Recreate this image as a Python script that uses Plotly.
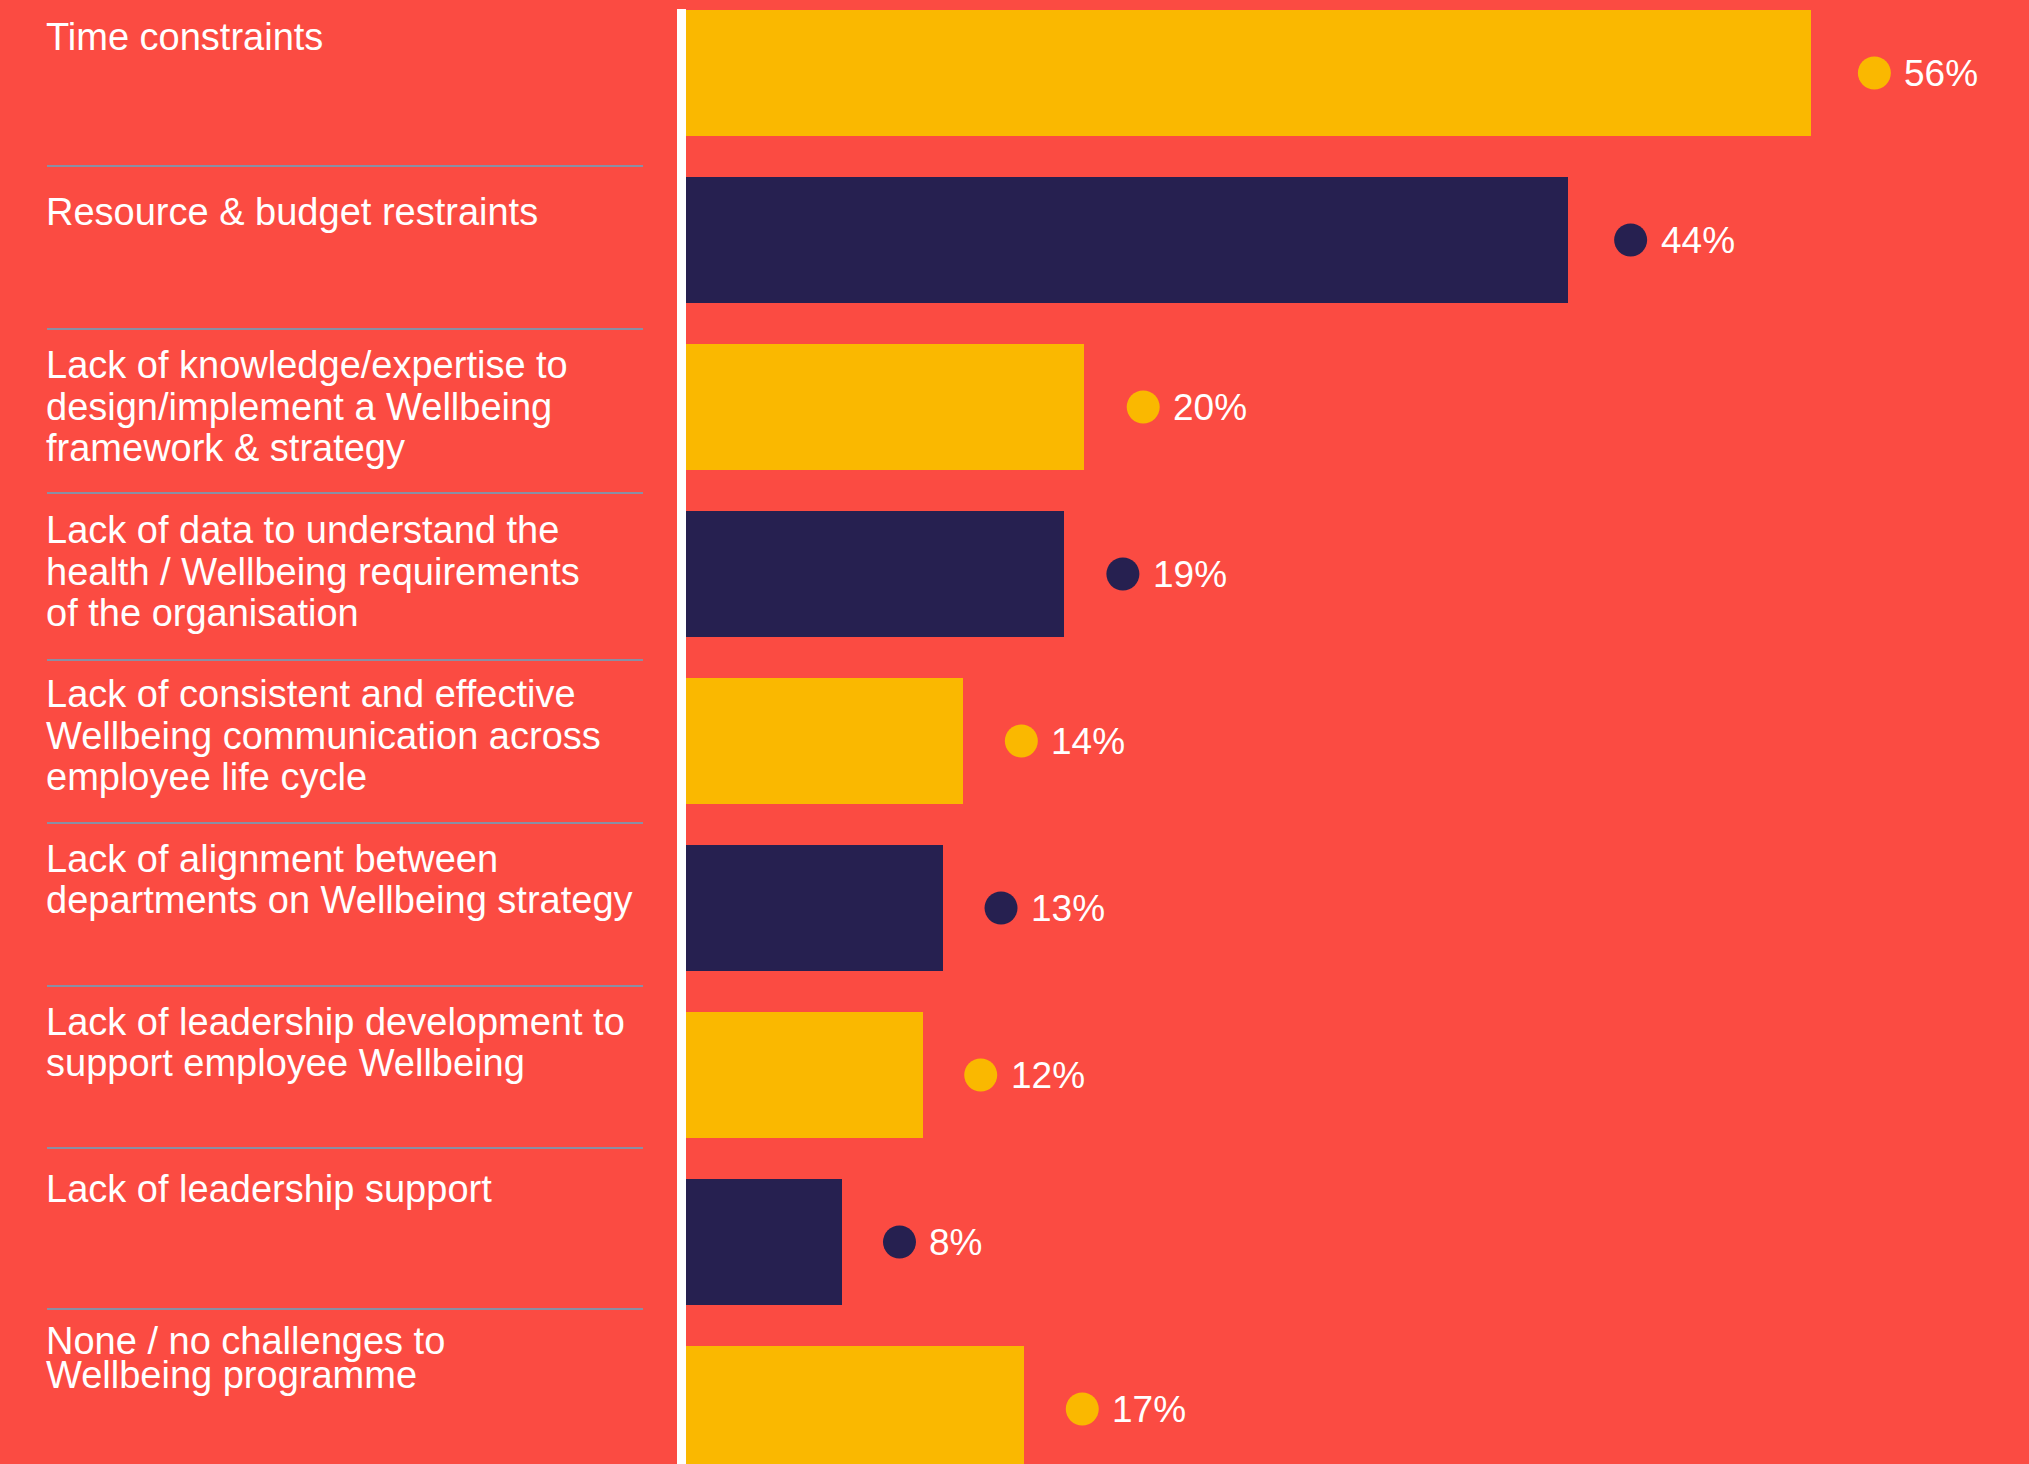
import plotly.graph_objects as go

# Survey answers: challenges faced when running a Wellbeing programme
categories = [
    "Time constraints",
    "Resource & budget restraints",
    "Lack of knowledge/expertise to\ndesign/implement a Wellbeing\nframework & strategy",
    "Lack of data to understand the\nhealth / Wellbeing requirements\nof the organisation",
    "Lack of consistent and effective\nWellbeing communication across\nemployee life cycle",
    "Lack of alignment between\ndepartments on Wellbeing strategy",
    "Lack of leadership development to\nsupport employee Wellbeing",
    "Lack of leadership support",
    "None / no challenges to\nWellbeing programme",
]
values = [56, 44, 20, 19, 14, 13, 12, 8, 17]

# ---- page geometry (pixels) ----
W, H = 2029, 1464
PLOT_LEFT = 681          # left edge of the bar area
PX_PER_UNIT = 20.17      # pixels per percentage point
ROW_PITCH = 167          # distance between bar centres
FIRST_ROW_CENTER = 73    # centre of the first bar
BAR_THICK = 126

DOT_GAP_PX = 56          # base gap between bar end and dot centre
DOT_GAP_SLOPE = 0.14     # longer bars get a slightly wider gap
TEXT_SHIFT = 28          # pixels from dot centre to the start of the value text

# left-hand label layout: top of capital letters, and line spacing per label
label_cap_top = [22, 197, 350, 515, 679, 844, 1007, 1174, 1326]
label_line_gap = [41.5, 41.5, 41.5, 41.5, 41.5, 41.0, 41.0, 41.5, 34.0]
separator_y = [166, 329, 493, 660, 823, 986, 1148, 1309]

BG = "#FB4B42"
YELLOW = "#FAB800"
NAVY = "#262050"
RULE = "#8A8FA3"
FONT = "Liberation Sans, Arial, Helvetica, sans-serif"
LABEL_SIZE = 38
VALUE_SIZE = 37

plot_w = W - PLOT_LEFT
colors = [YELLOW if i % 2 == 0 else NAVY for i in range(len(values))]
rows = list(range(len(values)))
dot_x = [v + (DOT_GAP_PX + DOT_GAP_SLOPE * v) / PX_PER_UNIT for v in values]


def px_x(px):
    """Horizontal pixel -> paper coordinate of the plot area."""
    return (px - PLOT_LEFT) / plot_w


def px_y(px):
    """Vertical pixel (from top) -> paper coordinate."""
    return 1 - px / H


fig = go.Figure()

fig.add_trace(go.Bar(
    x=values,
    y=rows,
    orientation="h",
    width=BAR_THICK / ROW_PITCH,
    marker=dict(color=colors, line=dict(width=0)),
    hoverinfo="skip",
    showlegend=False,
))

fig.add_trace(go.Scatter(
    x=dot_x,
    y=rows,
    mode="markers",
    marker=dict(size=33, color=colors, line=dict(width=0)),
    hoverinfo="skip",
    showlegend=False,
))

annotations = []

# value labels next to the dots
for i, v in enumerate(values):
    annotations.append(dict(
        x=dot_x[i], y=i, xref="x", yref="y",
        xshift=TEXT_SHIFT,
        text=f"{v}%",
        showarrow=False,
        xanchor="left", yanchor="middle",
        font=dict(family=FONT, size=VALUE_SIZE, color="white"),
    ))

# category labels on the left, one annotation per text line
for i, label in enumerate(categories):
    for k, line in enumerate(label.split("\n")):
        box_top = label_cap_top[i] + k * label_line_gap[i] - 8
        annotations.append(dict(
            x=px_x(43.5), y=px_y(box_top), xref="paper", yref="paper",
            text=line,
            showarrow=False,
            xanchor="left", yanchor="top",
            align="left",
            font=dict(family=FONT, size=LABEL_SIZE, color="white"),
        ))

shapes = []
# thin rules between the category labels
for sy in separator_y:
    shapes.append(dict(
        type="line", xref="paper", yref="paper",
        x0=px_x(47), x1=px_x(643), y0=px_y(sy), y1=px_y(sy),
        line=dict(color=RULE, width=2),
    ))
# white baseline of the bars
shapes.append(dict(
    type="line", xref="paper", yref="paper", layer="above",
    x0=px_x(681.5), x1=px_x(681.5), y0=0, y1=px_y(9),
    line=dict(color="white", width=9),
))

fig.update_layout(
    width=W, height=H,
    margin=dict(l=PLOT_LEFT, r=0, t=0, b=0, pad=0),
    paper_bgcolor=BG,
    plot_bgcolor=BG,
    bargap=0,
    xaxis=dict(range=[0, plot_w / PX_PER_UNIT], visible=False, fixedrange=True),
    yaxis=dict(
        range=[(H - FIRST_ROW_CENTER) / ROW_PITCH, -FIRST_ROW_CENTER / ROW_PITCH],
        visible=False, fixedrange=True,
    ),
    annotations=annotations,
    shapes=shapes,
    font=dict(family=FONT),
)

fig.write_html("out.html", config=dict(displayModeBar=False))
